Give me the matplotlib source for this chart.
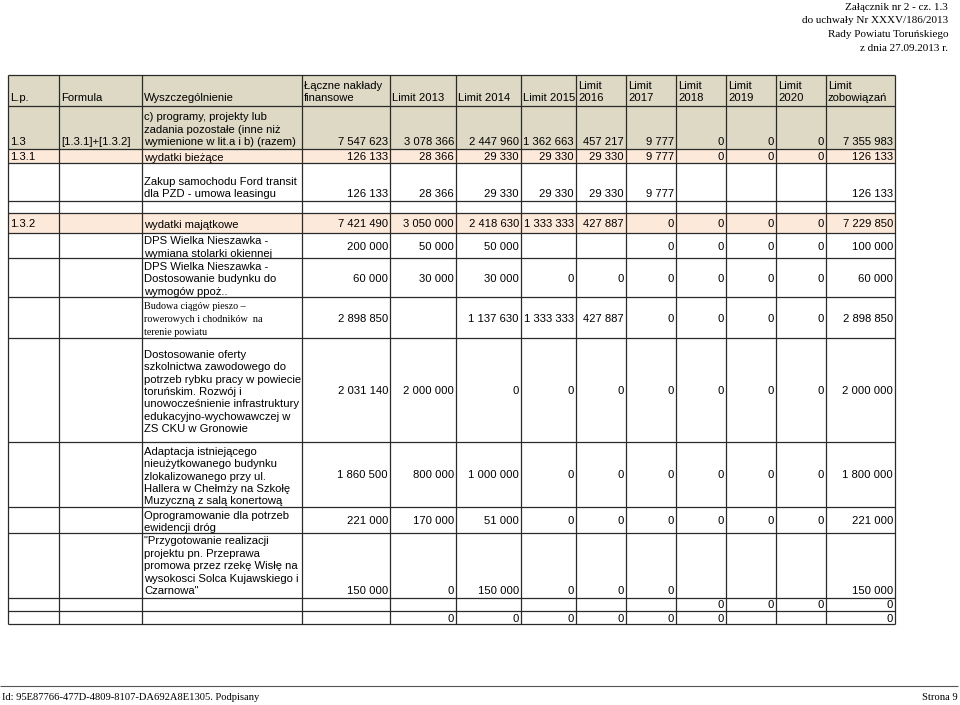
import matplotlib
matplotlib.use("Agg")
import matplotlib.pyplot as plt

# ---- table content ----
header = ["L.p.", "Formula", "Wyszczególnienie", "Łączne nakłady\nfinansowe",
          "Limit 2013", "Limit 2014", "Limit 2015", "Limit\n2016", "Limit\n2017",
          "Limit\n2018", "Limit\n2019", "Limit\n2020", "Limit\nzobowiązań"]

lp = ["1.3", "1.3.1", "", "", "1.3.2", "", "", "", "", "", "", "", "", ""]
formula = ["[1.3.1]+[1.3.2]", "", "", "", "", "", "", "", "", "", "", "", "", ""]
opis = [
    "c) programy, projekty lub\nzadania pozostałe (inne niż\nwymienione w lit.a i b) (razem)",
    "wydatki bieżące",
    "Zakup samochodu Ford transit\ndla PZD - umowa leasingu",
    "",
    "wydatki majątkowe",
    "DPS Wielka Nieszawka -\nwymiana stolarki okiennej",
    "DPS Wielka Nieszawka -\nDostosowanie budynku do\nwymogów ppoż..",
    "Budowa ciągów pieszo –\nrowerowych i chodników  na\nterenie powiatu",
    "Dostosowanie oferty\nszkolnictwa zawodowego do\npotrzeb rybku pracy w powiecie\n"
    "toruńskim. Rozwój i\nunowocześnienie infrastruktury\nedukacyjno-wychowawczej w\nZS CKU w Gronowie",
    "Adaptacja istniejącego\nnieużytkowanego budynku\nzlokalizowanego przy ul.\n"
    "Hallera w Chełmży na Szkołę\nMuzyczną z salą konertową",
    "Oprogramowanie dla potrzeb\newidencji dróg",
    "\"Przygotowanie realizacji\nprojektu pn. Przeprawa\npromowa przez rzekę Wisłę na\n"
    "wysokosci Solca Kujawskiego i\nCzarnowa\"",
    "",
    "",
]

laczne = ["7 547 623", "126 133", "126 133", "", "7 421 490", "200 000", "60 000", "2 898 850",
          "2 031 140", "1 860 500", "221 000", "150 000", "", ""]
lim2013 = ["3 078 366", "28 366", "28 366", "", "3 050 000", "50 000", "30 000", "",
           "2 000 000", "800 000", "170 000", "0", "", "0"]
lim2014 = ["2 447 960", "29 330", "29 330", "", "2 418 630", "50 000", "30 000", "1 137 630",
           "0", "1 000 000", "51 000", "150 000", "", "0"]
lim2015 = ["1 362 663", "29 330", "29 330", "", "1 333 333", "", "0", "1 333 333",
           "0", "0", "0", "0", "", "0"]
lim2016 = ["457 217", "29 330", "29 330", "", "427 887", "", "0", "427 887",
           "0", "0", "0", "0", "", "0"]
lim2017 = ["9 777", "9 777", "9 777", "", "0", "0", "0", "0", "0", "0", "0", "0", "", "0"]
lim2018 = ["0", "0", "", "", "0", "0", "0", "0", "0", "0", "0", "", "0", "0"]
lim2019 = ["0", "0", "", "", "0", "0", "0", "0", "0", "0", "0", "", "0", ""]
lim2020 = ["0", "0", "", "", "0", "0", "0", "0", "0", "0", "0", "", "0", ""]
zobow = ["7 355 983", "126 133", "126 133", "", "7 229 850", "100 000", "60 000", "2 898 850",
         "2 000 000", "1 800 000", "221 000", "150 000", "0", "0"]

naglowek = ["Załącznik nr 2 - cz. 1.3", "do uchwały Nr XXXV/186/2013",
            "Rady Powiatu Toruńskiego", "z dnia 27.09.2013 r."]
stopka_l = "Id: 95E87766-477D-4809-8107-DA692A8E1305. Podpisany"
stopka_r = "Strona 9"

# ---- layout (pixels) ----
col_x = [8, 59, 142, 302, 390, 456, 521, 576, 626, 676, 726, 776, 826, 895]
row_y = [75, 106, 149, 163, 201, 213, 233, 258, 297, 338, 442, 507, 533, 598, 611, 624]
# vertical placement of values per data row: 'b' bottom, 'c' center
val_va = ["b", "c", "b", "c", "c", "c", "c", "c", "c", "c", "c", "b", "c", "c"]
txt_va = ["b", "c", "b", "c", "c", "c", "c", "c", "c", "c", "c", "b", "c", "c"]
shade = {0: "#ddd9c4", 1: "#ddd9c4", 2: "#fde9d9", 5: "#fde9d9"}

SANS = "Liberation Sans"
SERIF = "Liberation Serif"
FS = 8.1

fig = plt.figure(figsize=(9.6, 7.05), dpi=100)
ax = fig.add_axes([0, 0, 1, 1])
ax.set_xlim(0, 960)
ax.set_ylim(705, 0)
ax.axis("off")

for r, c in shade.items():
    ax.fill_between([col_x[0], col_x[-1]], row_y[r], row_y[r + 1], color=c, lw=0, zorder=0)

ax.hlines(row_y, col_x[0], col_x[-1], color="#2a2a2a", lw=0.9, zorder=3)
ax.vlines(col_x, row_y[0], row_y[-1], color="#2a2a2a", lw=0.9, zorder=3)

# header
for j, h in enumerate(header):
    ax.text(col_x[j] + 2, row_y[1] - 3, h, ha="left", va="bottom", fontsize=FS,
            family=SANS, linespacing=1.3, zorder=2)

values = [laczne, lim2013, lim2014, lim2015, lim2016, lim2017, lim2018, lim2019, lim2020, zobow]

for i in range(len(opis)):
    top, bot = row_y[i + 1], row_y[i + 2]
    yv = bot - 2 if val_va[i] == "b" else (top + bot) / 2 + 1
    va_v = "bottom" if val_va[i] == "b" else "center"
    yt = bot - 2 if txt_va[i] == "b" else (top + bot) / 2 + 2
    va_t = "bottom" if txt_va[i] == "b" else "center"
    ax.text(col_x[0] + 2, yv, lp[i], ha="left", va=va_v, fontsize=FS, family=SANS, zorder=2)
    ax.text(col_x[1] + 2, yv, formula[i], ha="left", va=va_v, fontsize=FS, family=SANS, zorder=2)
    if opis[i].startswith("Budowa"):
        ax.text(col_x[2] + 2, yt, opis[i], ha="left", va=va_t, fontsize=7.3, family=SERIF,
                linespacing=1.6, zorder=2)
    else:
        ax.text(col_x[2] + 2, yt, opis[i], ha="left", va=va_t, fontsize=FS, family=SANS,
                linespacing=1.3, zorder=2)
    for k, col in enumerate(values):
        ax.text(col_x[k + 4] - 2, yv, col[i], ha="right", va=va_v, fontsize=FS,
                family=SANS, zorder=2)

for n, line in enumerate(naglowek):
    ax.text(948, 7 + n * 13.7, line, ha="right", va="center", fontsize=8, family=SERIF)

ax.hlines(686, 0, 958, color="#555555", lw=0.8)
ax.text(2, 697, stopka_l, ha="left", va="center", fontsize=7.6, family=SERIF)
ax.text(958, 697, stopka_r, ha="right", va="center", fontsize=7.6, family=SERIF)

fig.savefig("out.png", dpi=100, facecolor="white")
